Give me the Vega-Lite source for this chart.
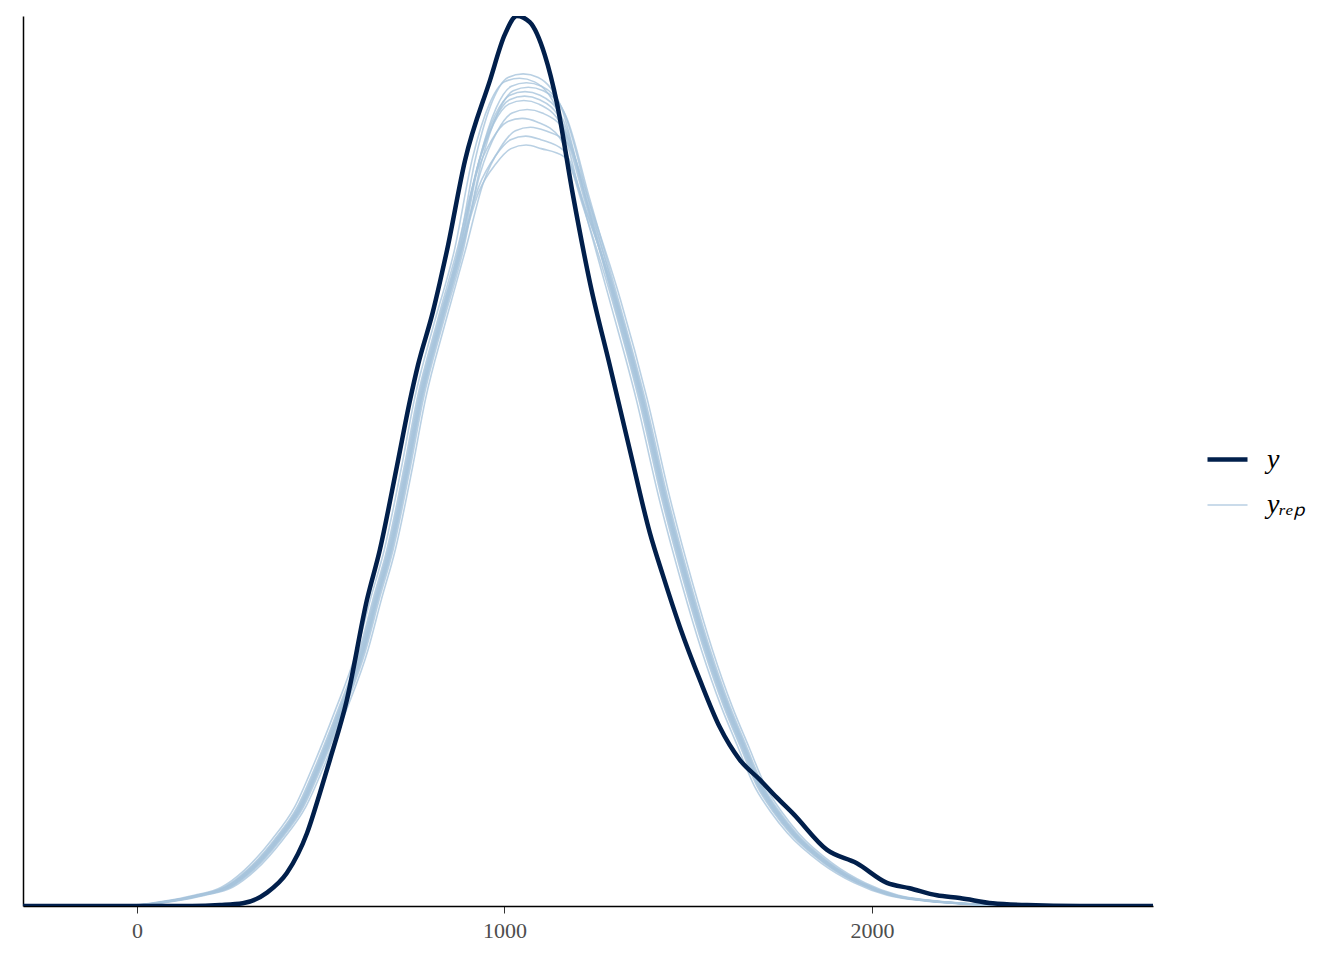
{
"$schema": "https://vega.github.io/schema/vega-lite/v6.json",
"width": 1130,
"height": 890,
"autosize": {"type": "none"},
"padding": {"left": 23, "top": 16, "right": 191, "bottom": 54},
"config": {"view": {"stroke": null}, "font": "Liberation Serif"},
"datasets": {
"yobs": [
{"g":"y","s":"y","x":-310,"d":0},{"g":"y","s":"y","x":0,"d":0},{"g":"y","s":"y","x":150,"d":0},{"g":"y","s":"y","x":226,"d":0.001},{"g":"y","s":"y","x":288,"d":0.003},{"g":"y","s":"y","x":354,"d":0.015},{"g":"y","s":"y","x":408,"d":0.037},{"g":"y","s":"y","x":463,"d":0.082},{"g":"y","s":"y","x":498,"d":0.127},{"g":"y","s":"y","x":525,"d":0.164},{"g":"y","s":"y","x":571,"d":0.231},{"g":"y","s":"y","x":626,"d":0.344},{"g":"y","s":"y","x":661,"d":0.400},{"g":"y","s":"y","x":707,"d":0.493},{"g":"y","s":"y","x":743,"d":0.568},{"g":"y","s":"y","x":765,"d":0.608},{"g":"y","s":"y","x":805,"d":0.667},{"g":"y","s":"y","x":824,"d":0.700},{"g":"y","s":"y","x":844,"d":0.737},{"g":"y","s":"y","x":893,"d":0.838},{"g":"y","s":"y","x":961,"d":0.928},{"g":"y","s":"y","x":1001,"d":0.979},{"g":"y","s":"y","x":1034,"d":1.0},{"g":"y","s":"y","x":1069,"d":0.993},{"g":"y","s":"y","x":1110,"d":0.956},{"g":"y","s":"y","x":1143,"d":0.902},{"g":"y","s":"y","x":1186,"d":0.800},{"g":"y","s":"y","x":1233,"d":0.700},{"g":"y","s":"y","x":1287,"d":0.607},{"g":"y","s":"y","x":1341,"d":0.513},{"g":"y","s":"y","x":1396,"d":0.419},{"g":"y","s":"y","x":1431,"d":0.372},{"g":"y","s":"y","x":1478,"d":0.313},{"g":"y","s":"y","x":1532,"d":0.254},{"g":"y","s":"y","x":1586,"d":0.201},{"g":"y","s":"y","x":1641,"d":0.164},{"g":"y","s":"y","x":1695,"d":0.142},{"g":"y","s":"y","x":1741,"d":0.122},{"g":"y","s":"y","x":1785,"d":0.104},{"g":"y","s":"y","x":1878,"d":0.063},{"g":"y","s":"y","x":1959,"d":0.048},{"g":"y","s":"y","x":2041,"d":0.026},{"g":"y","s":"y","x":2103,"d":0.020},{"g":"y","s":"y","x":2177,"d":0.012},{"g":"y","s":"y","x":2239,"d":0.009},{"g":"y","s":"y","x":2329,"d":0.003},{"g":"y","s":"y","x":2422,"d":0.001},{"g":"y","s":"y","x":2566,"d":0},{"g":"y","s":"y","x":2765,"d":0}
],
"yrep": [
{"g":"y_rep","s":"r1","x":-310,"d":0},{"g":"y_rep","s":"r1","x":-15,"d":0.001},{"g":"y_rep","s":"r1","x":67,"d":0.005},{"g":"y_rep","s":"r1","x":156,"d":0.012},{"g":"y_rep","s":"r1","x":230,"d":0.021},{"g":"y_rep","s":"r1","x":292,"d":0.040},{"g":"y_rep","s":"r1","x":366,"d":0.074},{"g":"y_rep","s":"r1","x":429,"d":0.111},{"g":"y_rep","s":"r1","x":483,"d":0.161},{"g":"y_rep","s":"r1","x":537,"d":0.217},{"g":"y_rep","s":"r1","x":599,"d":0.288},{"g":"y_rep","s":"r1","x":635,"d":0.344},{"g":"y_rep","s":"r1","x":673,"d":0.400},{"g":"y_rep","s":"r1","x":720,"d":0.493},{"g":"y_rep","s":"r1","x":755,"d":0.569},{"g":"y_rep","s":"r1","x":809,"d":0.655},{"g":"y_rep","s":"r1","x":864,"d":0.737},{"g":"y_rep","s":"r1","x":913,"d":0.840},{"g":"y_rep","s":"r1","x":959,"d":0.901},{"g":"y_rep","s":"r1","x":1000,"d":0.926},{"g":"y_rep","s":"r1","x":1041,"d":0.930},{"g":"y_rep","s":"r1","x":1082,"d":0.926},{"g":"y_rep","s":"r1","x":1144,"d":0.894},{"g":"y_rep","s":"r1","x":1207,"d":0.799},{"g":"y_rep","s":"r1","x":1286,"d":0.681},{"g":"y_rep","s":"r1","x":1359,"d":0.569},{"g":"y_rep","s":"r1","x":1422,"d":0.456},{"g":"y_rep","s":"r1","x":1482,"d":0.363},{"g":"y_rep","s":"r1","x":1536,"d":0.288},{"g":"y_rep","s":"r1","x":1590,"d":0.224},{"g":"y_rep","s":"r1","x":1634,"d":0.180},{"g":"y_rep","s":"r1","x":1680,"d":0.135},{"g":"y_rep","s":"r1","x":1726,"d":0.105},{"g":"y_rep","s":"r1","x":1770,"d":0.082},{"g":"y_rep","s":"r1","x":1863,"d":0.048},{"g":"y_rep","s":"r1","x":1952,"d":0.026},{"g":"y_rep","s":"r1","x":2042,"d":0.012},{"g":"y_rep","s":"r1","x":2135,"d":0.006},{"g":"y_rep","s":"r1","x":2224,"d":0.003},{"g":"y_rep","s":"r1","x":2314,"d":0.001},{"g":"y_rep","s":"r1","x":2469,"d":0},{"g":"y_rep","s":"r1","x":2765,"d":0},
{"g":"y_rep","s":"r2","x":-310,"d":0},{"g":"y_rep","s":"r2","x":-8,"d":0.001},{"g":"y_rep","s":"r2","x":74,"d":0.005},{"g":"y_rep","s":"r2","x":163,"d":0.012},{"g":"y_rep","s":"r2","x":237,"d":0.021},{"g":"y_rep","s":"r2","x":299,"d":0.040},{"g":"y_rep","s":"r2","x":373,"d":0.074},{"g":"y_rep","s":"r2","x":436,"d":0.111},{"g":"y_rep","s":"r2","x":490,"d":0.161},{"g":"y_rep","s":"r2","x":544,"d":0.217},{"g":"y_rep","s":"r2","x":606,"d":0.288},{"g":"y_rep","s":"r2","x":642,"d":0.344},{"g":"y_rep","s":"r2","x":680,"d":0.400},{"g":"y_rep","s":"r2","x":727,"d":0.493},{"g":"y_rep","s":"r2","x":762,"d":0.569},{"g":"y_rep","s":"r2","x":816,"d":0.655},{"g":"y_rep","s":"r2","x":871,"d":0.737},{"g":"y_rep","s":"r2","x":920,"d":0.818},{"g":"y_rep","s":"r2","x":966,"d":0.861},{"g":"y_rep","s":"r2","x":1007,"d":0.881},{"g":"y_rep","s":"r2","x":1048,"d":0.885},{"g":"y_rep","s":"r2","x":1089,"d":0.881},{"g":"y_rep","s":"r2","x":1151,"d":0.863},{"g":"y_rep","s":"r2","x":1214,"d":0.786},{"g":"y_rep","s":"r2","x":1293,"d":0.681},{"g":"y_rep","s":"r2","x":1366,"d":0.569},{"g":"y_rep","s":"r2","x":1429,"d":0.456},{"g":"y_rep","s":"r2","x":1489,"d":0.363},{"g":"y_rep","s":"r2","x":1543,"d":0.288},{"g":"y_rep","s":"r2","x":1597,"d":0.224},{"g":"y_rep","s":"r2","x":1641,"d":0.180},{"g":"y_rep","s":"r2","x":1687,"d":0.135},{"g":"y_rep","s":"r2","x":1733,"d":0.105},{"g":"y_rep","s":"r2","x":1777,"d":0.082},{"g":"y_rep","s":"r2","x":1870,"d":0.048},{"g":"y_rep","s":"r2","x":1959,"d":0.026},{"g":"y_rep","s":"r2","x":2049,"d":0.012},{"g":"y_rep","s":"r2","x":2142,"d":0.006},{"g":"y_rep","s":"r2","x":2231,"d":0.003},{"g":"y_rep","s":"r2","x":2321,"d":0.001},{"g":"y_rep","s":"r2","x":2476,"d":0},{"g":"y_rep","s":"r2","x":2765,"d":0},
{"g":"y_rep","s":"r3","x":-310,"d":0},{"g":"y_rep","s":"r3","x":-5,"d":0.001},{"g":"y_rep","s":"r3","x":77,"d":0.005},{"g":"y_rep","s":"r3","x":166,"d":0.012},{"g":"y_rep","s":"r3","x":240,"d":0.021},{"g":"y_rep","s":"r3","x":302,"d":0.040},{"g":"y_rep","s":"r3","x":376,"d":0.074},{"g":"y_rep","s":"r3","x":439,"d":0.111},{"g":"y_rep","s":"r3","x":493,"d":0.161},{"g":"y_rep","s":"r3","x":547,"d":0.217},{"g":"y_rep","s":"r3","x":609,"d":0.288},{"g":"y_rep","s":"r3","x":645,"d":0.344},{"g":"y_rep","s":"r3","x":683,"d":0.400},{"g":"y_rep","s":"r3","x":730,"d":0.493},{"g":"y_rep","s":"r3","x":765,"d":0.569},{"g":"y_rep","s":"r3","x":819,"d":0.655},{"g":"y_rep","s":"r3","x":874,"d":0.737},{"g":"y_rep","s":"r3","x":923,"d":0.843},{"g":"y_rep","s":"r3","x":969,"d":0.906},{"g":"y_rep","s":"r3","x":1010,"d":0.931},{"g":"y_rep","s":"r3","x":1051,"d":0.935},{"g":"y_rep","s":"r3","x":1092,"d":0.931},{"g":"y_rep","s":"r3","x":1154,"d":0.898},{"g":"y_rep","s":"r3","x":1217,"d":0.801},{"g":"y_rep","s":"r3","x":1296,"d":0.681},{"g":"y_rep","s":"r3","x":1369,"d":0.569},{"g":"y_rep","s":"r3","x":1432,"d":0.456},{"g":"y_rep","s":"r3","x":1492,"d":0.363},{"g":"y_rep","s":"r3","x":1546,"d":0.288},{"g":"y_rep","s":"r3","x":1600,"d":0.224},{"g":"y_rep","s":"r3","x":1644,"d":0.180},{"g":"y_rep","s":"r3","x":1690,"d":0.135},{"g":"y_rep","s":"r3","x":1736,"d":0.105},{"g":"y_rep","s":"r3","x":1780,"d":0.082},{"g":"y_rep","s":"r3","x":1873,"d":0.048},{"g":"y_rep","s":"r3","x":1962,"d":0.026},{"g":"y_rep","s":"r3","x":2052,"d":0.012},{"g":"y_rep","s":"r3","x":2145,"d":0.006},{"g":"y_rep","s":"r3","x":2234,"d":0.003},{"g":"y_rep","s":"r3","x":2324,"d":0.001},{"g":"y_rep","s":"r3","x":2479,"d":0},{"g":"y_rep","s":"r3","x":2765,"d":0},
{"g":"y_rep","s":"r4","x":-310,"d":0},{"g":"y_rep","s":"r4","x":-3,"d":0.001},{"g":"y_rep","s":"r4","x":79,"d":0.005},{"g":"y_rep","s":"r4","x":168,"d":0.012},{"g":"y_rep","s":"r4","x":242,"d":0.021},{"g":"y_rep","s":"r4","x":304,"d":0.040},{"g":"y_rep","s":"r4","x":378,"d":0.074},{"g":"y_rep","s":"r4","x":441,"d":0.111},{"g":"y_rep","s":"r4","x":495,"d":0.161},{"g":"y_rep","s":"r4","x":549,"d":0.217},{"g":"y_rep","s":"r4","x":611,"d":0.288},{"g":"y_rep","s":"r4","x":647,"d":0.344},{"g":"y_rep","s":"r4","x":685,"d":0.400},{"g":"y_rep","s":"r4","x":732,"d":0.493},{"g":"y_rep","s":"r4","x":767,"d":0.569},{"g":"y_rep","s":"r4","x":821,"d":0.655},{"g":"y_rep","s":"r4","x":876,"d":0.737},{"g":"y_rep","s":"r4","x":925,"d":0.828},{"g":"y_rep","s":"r4","x":971,"d":0.879},{"g":"y_rep","s":"r4","x":1012,"d":0.901},{"g":"y_rep","s":"r4","x":1053,"d":0.905},{"g":"y_rep","s":"r4","x":1094,"d":0.901},{"g":"y_rep","s":"r4","x":1156,"d":0.877},{"g":"y_rep","s":"r4","x":1219,"d":0.792},{"g":"y_rep","s":"r4","x":1298,"d":0.681},{"g":"y_rep","s":"r4","x":1371,"d":0.569},{"g":"y_rep","s":"r4","x":1434,"d":0.456},{"g":"y_rep","s":"r4","x":1494,"d":0.363},{"g":"y_rep","s":"r4","x":1548,"d":0.288},{"g":"y_rep","s":"r4","x":1602,"d":0.224},{"g":"y_rep","s":"r4","x":1646,"d":0.180},{"g":"y_rep","s":"r4","x":1692,"d":0.135},{"g":"y_rep","s":"r4","x":1738,"d":0.105},{"g":"y_rep","s":"r4","x":1782,"d":0.082},{"g":"y_rep","s":"r4","x":1875,"d":0.048},{"g":"y_rep","s":"r4","x":1964,"d":0.026},{"g":"y_rep","s":"r4","x":2054,"d":0.012},{"g":"y_rep","s":"r4","x":2147,"d":0.006},{"g":"y_rep","s":"r4","x":2236,"d":0.003},{"g":"y_rep","s":"r4","x":2326,"d":0.001},{"g":"y_rep","s":"r4","x":2481,"d":0},{"g":"y_rep","s":"r4","x":2765,"d":0},
{"g":"y_rep","s":"r5","x":-310,"d":0},{"g":"y_rep","s":"r5","x":0,"d":0.001},{"g":"y_rep","s":"r5","x":82,"d":0.005},{"g":"y_rep","s":"r5","x":171,"d":0.012},{"g":"y_rep","s":"r5","x":245,"d":0.021},{"g":"y_rep","s":"r5","x":307,"d":0.040},{"g":"y_rep","s":"r5","x":381,"d":0.074},{"g":"y_rep","s":"r5","x":444,"d":0.111},{"g":"y_rep","s":"r5","x":498,"d":0.161},{"g":"y_rep","s":"r5","x":552,"d":0.217},{"g":"y_rep","s":"r5","x":614,"d":0.288},{"g":"y_rep","s":"r5","x":650,"d":0.344},{"g":"y_rep","s":"r5","x":688,"d":0.400},{"g":"y_rep","s":"r5","x":735,"d":0.493},{"g":"y_rep","s":"r5","x":770,"d":0.569},{"g":"y_rep","s":"r5","x":824,"d":0.655},{"g":"y_rep","s":"r5","x":879,"d":0.737},{"g":"y_rep","s":"r5","x":928,"d":0.833},{"g":"y_rep","s":"r5","x":974,"d":0.888},{"g":"y_rep","s":"r5","x":1015,"d":0.911},{"g":"y_rep","s":"r5","x":1056,"d":0.915},{"g":"y_rep","s":"r5","x":1097,"d":0.911},{"g":"y_rep","s":"r5","x":1159,"d":0.884},{"g":"y_rep","s":"r5","x":1222,"d":0.795},{"g":"y_rep","s":"r5","x":1301,"d":0.681},{"g":"y_rep","s":"r5","x":1374,"d":0.569},{"g":"y_rep","s":"r5","x":1437,"d":0.456},{"g":"y_rep","s":"r5","x":1497,"d":0.363},{"g":"y_rep","s":"r5","x":1551,"d":0.288},{"g":"y_rep","s":"r5","x":1605,"d":0.224},{"g":"y_rep","s":"r5","x":1649,"d":0.180},{"g":"y_rep","s":"r5","x":1695,"d":0.135},{"g":"y_rep","s":"r5","x":1741,"d":0.105},{"g":"y_rep","s":"r5","x":1785,"d":0.082},{"g":"y_rep","s":"r5","x":1878,"d":0.048},{"g":"y_rep","s":"r5","x":1967,"d":0.026},{"g":"y_rep","s":"r5","x":2057,"d":0.012},{"g":"y_rep","s":"r5","x":2150,"d":0.006},{"g":"y_rep","s":"r5","x":2239,"d":0.003},{"g":"y_rep","s":"r5","x":2329,"d":0.001},{"g":"y_rep","s":"r5","x":2484,"d":0},{"g":"y_rep","s":"r5","x":2765,"d":0},
{"g":"y_rep","s":"r6","x":-310,"d":0},{"g":"y_rep","s":"r6","x":2,"d":0.001},{"g":"y_rep","s":"r6","x":84,"d":0.005},{"g":"y_rep","s":"r6","x":173,"d":0.012},{"g":"y_rep","s":"r6","x":247,"d":0.021},{"g":"y_rep","s":"r6","x":309,"d":0.040},{"g":"y_rep","s":"r6","x":383,"d":0.074},{"g":"y_rep","s":"r6","x":446,"d":0.111},{"g":"y_rep","s":"r6","x":500,"d":0.161},{"g":"y_rep","s":"r6","x":554,"d":0.217},{"g":"y_rep","s":"r6","x":616,"d":0.288},{"g":"y_rep","s":"r6","x":652,"d":0.344},{"g":"y_rep","s":"r6","x":690,"d":0.400},{"g":"y_rep","s":"r6","x":737,"d":0.493},{"g":"y_rep","s":"r6","x":772,"d":0.569},{"g":"y_rep","s":"r6","x":826,"d":0.655},{"g":"y_rep","s":"r6","x":881,"d":0.737},{"g":"y_rep","s":"r6","x":930,"d":0.808},{"g":"y_rep","s":"r6","x":976,"d":0.843},{"g":"y_rep","s":"r6","x":1017,"d":0.861},{"g":"y_rep","s":"r6","x":1058,"d":0.865},{"g":"y_rep","s":"r6","x":1099,"d":0.861},{"g":"y_rep","s":"r6","x":1161,"d":0.849},{"g":"y_rep","s":"r6","x":1224,"d":0.780},{"g":"y_rep","s":"r6","x":1303,"d":0.681},{"g":"y_rep","s":"r6","x":1376,"d":0.569},{"g":"y_rep","s":"r6","x":1439,"d":0.456},{"g":"y_rep","s":"r6","x":1499,"d":0.363},{"g":"y_rep","s":"r6","x":1553,"d":0.288},{"g":"y_rep","s":"r6","x":1607,"d":0.224},{"g":"y_rep","s":"r6","x":1651,"d":0.180},{"g":"y_rep","s":"r6","x":1697,"d":0.135},{"g":"y_rep","s":"r6","x":1743,"d":0.105},{"g":"y_rep","s":"r6","x":1787,"d":0.082},{"g":"y_rep","s":"r6","x":1880,"d":0.048},{"g":"y_rep","s":"r6","x":1969,"d":0.026},{"g":"y_rep","s":"r6","x":2059,"d":0.012},{"g":"y_rep","s":"r6","x":2152,"d":0.006},{"g":"y_rep","s":"r6","x":2241,"d":0.003},{"g":"y_rep","s":"r6","x":2331,"d":0.001},{"g":"y_rep","s":"r6","x":2486,"d":0},{"g":"y_rep","s":"r6","x":2765,"d":0},
{"g":"y_rep","s":"r7","x":-310,"d":0},{"g":"y_rep","s":"r7","x":4,"d":0.001},{"g":"y_rep","s":"r7","x":86,"d":0.005},{"g":"y_rep","s":"r7","x":175,"d":0.012},{"g":"y_rep","s":"r7","x":249,"d":0.021},{"g":"y_rep","s":"r7","x":311,"d":0.040},{"g":"y_rep","s":"r7","x":385,"d":0.074},{"g":"y_rep","s":"r7","x":448,"d":0.111},{"g":"y_rep","s":"r7","x":502,"d":0.161},{"g":"y_rep","s":"r7","x":556,"d":0.217},{"g":"y_rep","s":"r7","x":618,"d":0.288},{"g":"y_rep","s":"r7","x":654,"d":0.344},{"g":"y_rep","s":"r7","x":692,"d":0.400},{"g":"y_rep","s":"r7","x":739,"d":0.493},{"g":"y_rep","s":"r7","x":774,"d":0.569},{"g":"y_rep","s":"r7","x":828,"d":0.655},{"g":"y_rep","s":"r7","x":883,"d":0.737},{"g":"y_rep","s":"r7","x":932,"d":0.838},{"g":"y_rep","s":"r7","x":978,"d":0.897},{"g":"y_rep","s":"r7","x":1019,"d":0.921},{"g":"y_rep","s":"r7","x":1060,"d":0.925},{"g":"y_rep","s":"r7","x":1101,"d":0.921},{"g":"y_rep","s":"r7","x":1163,"d":0.891},{"g":"y_rep","s":"r7","x":1226,"d":0.798},{"g":"y_rep","s":"r7","x":1305,"d":0.681},{"g":"y_rep","s":"r7","x":1378,"d":0.569},{"g":"y_rep","s":"r7","x":1441,"d":0.456},{"g":"y_rep","s":"r7","x":1501,"d":0.363},{"g":"y_rep","s":"r7","x":1555,"d":0.288},{"g":"y_rep","s":"r7","x":1609,"d":0.224},{"g":"y_rep","s":"r7","x":1653,"d":0.180},{"g":"y_rep","s":"r7","x":1699,"d":0.135},{"g":"y_rep","s":"r7","x":1745,"d":0.105},{"g":"y_rep","s":"r7","x":1789,"d":0.082},{"g":"y_rep","s":"r7","x":1882,"d":0.048},{"g":"y_rep","s":"r7","x":1971,"d":0.026},{"g":"y_rep","s":"r7","x":2061,"d":0.012},{"g":"y_rep","s":"r7","x":2154,"d":0.006},{"g":"y_rep","s":"r7","x":2243,"d":0.003},{"g":"y_rep","s":"r7","x":2333,"d":0.001},{"g":"y_rep","s":"r7","x":2488,"d":0},{"g":"y_rep","s":"r7","x":2765,"d":0},
{"g":"y_rep","s":"r8","x":-310,"d":0},{"g":"y_rep","s":"r8","x":6,"d":0.001},{"g":"y_rep","s":"r8","x":88,"d":0.005},{"g":"y_rep","s":"r8","x":177,"d":0.012},{"g":"y_rep","s":"r8","x":251,"d":0.021},{"g":"y_rep","s":"r8","x":313,"d":0.040},{"g":"y_rep","s":"r8","x":387,"d":0.074},{"g":"y_rep","s":"r8","x":450,"d":0.111},{"g":"y_rep","s":"r8","x":504,"d":0.161},{"g":"y_rep","s":"r8","x":558,"d":0.217},{"g":"y_rep","s":"r8","x":620,"d":0.288},{"g":"y_rep","s":"r8","x":656,"d":0.344},{"g":"y_rep","s":"r8","x":694,"d":0.400},{"g":"y_rep","s":"r8","x":741,"d":0.493},{"g":"y_rep","s":"r8","x":776,"d":0.569},{"g":"y_rep","s":"r8","x":830,"d":0.655},{"g":"y_rep","s":"r8","x":885,"d":0.737},{"g":"y_rep","s":"r8","x":934,"d":0.823},{"g":"y_rep","s":"r8","x":980,"d":0.870},{"g":"y_rep","s":"r8","x":1021,"d":0.891},{"g":"y_rep","s":"r8","x":1062,"d":0.895},{"g":"y_rep","s":"r8","x":1103,"d":0.891},{"g":"y_rep","s":"r8","x":1165,"d":0.870},{"g":"y_rep","s":"r8","x":1228,"d":0.789},{"g":"y_rep","s":"r8","x":1307,"d":0.681},{"g":"y_rep","s":"r8","x":1380,"d":0.569},{"g":"y_rep","s":"r8","x":1443,"d":0.456},{"g":"y_rep","s":"r8","x":1503,"d":0.363},{"g":"y_rep","s":"r8","x":1557,"d":0.288},{"g":"y_rep","s":"r8","x":1611,"d":0.224},{"g":"y_rep","s":"r8","x":1655,"d":0.180},{"g":"y_rep","s":"r8","x":1701,"d":0.135},{"g":"y_rep","s":"r8","x":1747,"d":0.105},{"g":"y_rep","s":"r8","x":1791,"d":0.082},{"g":"y_rep","s":"r8","x":1884,"d":0.048},{"g":"y_rep","s":"r8","x":1973,"d":0.026},{"g":"y_rep","s":"r8","x":2063,"d":0.012},{"g":"y_rep","s":"r8","x":2156,"d":0.006},{"g":"y_rep","s":"r8","x":2245,"d":0.003},{"g":"y_rep","s":"r8","x":2335,"d":0.001},{"g":"y_rep","s":"r8","x":2490,"d":0},{"g":"y_rep","s":"r8","x":2765,"d":0},
{"g":"y_rep","s":"r9","x":-310,"d":0},{"g":"y_rep","s":"r9","x":9,"d":0.001},{"g":"y_rep","s":"r9","x":91,"d":0.005},{"g":"y_rep","s":"r9","x":180,"d":0.012},{"g":"y_rep","s":"r9","x":254,"d":0.021},{"g":"y_rep","s":"r9","x":316,"d":0.040},{"g":"y_rep","s":"r9","x":390,"d":0.074},{"g":"y_rep","s":"r9","x":453,"d":0.111},{"g":"y_rep","s":"r9","x":507,"d":0.161},{"g":"y_rep","s":"r9","x":561,"d":0.217},{"g":"y_rep","s":"r9","x":623,"d":0.288},{"g":"y_rep","s":"r9","x":659,"d":0.344},{"g":"y_rep","s":"r9","x":697,"d":0.400},{"g":"y_rep","s":"r9","x":744,"d":0.493},{"g":"y_rep","s":"r9","x":779,"d":0.569},{"g":"y_rep","s":"r9","x":833,"d":0.655},{"g":"y_rep","s":"r9","x":888,"d":0.737},{"g":"y_rep","s":"r9","x":937,"d":0.835},{"g":"y_rep","s":"r9","x":983,"d":0.892},{"g":"y_rep","s":"r9","x":1024,"d":0.916},{"g":"y_rep","s":"r9","x":1065,"d":0.920},{"g":"y_rep","s":"r9","x":1106,"d":0.916},{"g":"y_rep","s":"r9","x":1168,"d":0.887},{"g":"y_rep","s":"r9","x":1231,"d":0.796},{"g":"y_rep","s":"r9","x":1310,"d":0.681},{"g":"y_rep","s":"r9","x":1383,"d":0.569},{"g":"y_rep","s":"r9","x":1446,"d":0.456},{"g":"y_rep","s":"r9","x":1506,"d":0.363},{"g":"y_rep","s":"r9","x":1560,"d":0.288},{"g":"y_rep","s":"r9","x":1614,"d":0.224},{"g":"y_rep","s":"r9","x":1658,"d":0.180},{"g":"y_rep","s":"r9","x":1704,"d":0.135},{"g":"y_rep","s":"r9","x":1750,"d":0.105},{"g":"y_rep","s":"r9","x":1794,"d":0.082},{"g":"y_rep","s":"r9","x":1887,"d":0.048},{"g":"y_rep","s":"r9","x":1976,"d":0.026},{"g":"y_rep","s":"r9","x":2066,"d":0.012},{"g":"y_rep","s":"r9","x":2159,"d":0.006},{"g":"y_rep","s":"r9","x":2248,"d":0.003},{"g":"y_rep","s":"r9","x":2338,"d":0.001},{"g":"y_rep","s":"r9","x":2493,"d":0},{"g":"y_rep","s":"r9","x":2765,"d":0},
{"g":"y_rep","s":"r10","x":-310,"d":0},{"g":"y_rep","s":"r10","x":15,"d":0.001},{"g":"y_rep","s":"r10","x":97,"d":0.005},{"g":"y_rep","s":"r10","x":186,"d":0.012},{"g":"y_rep","s":"r10","x":260,"d":0.021},{"g":"y_rep","s":"r10","x":322,"d":0.040},{"g":"y_rep","s":"r10","x":396,"d":0.074},{"g":"y_rep","s":"r10","x":459,"d":0.111},{"g":"y_rep","s":"r10","x":513,"d":0.161},{"g":"y_rep","s":"r10","x":567,"d":0.217},{"g":"y_rep","s":"r10","x":629,"d":0.288},{"g":"y_rep","s":"r10","x":665,"d":0.344},{"g":"y_rep","s":"r10","x":703,"d":0.400},{"g":"y_rep","s":"r10","x":750,"d":0.493},{"g":"y_rep","s":"r10","x":785,"d":0.569},{"g":"y_rep","s":"r10","x":839,"d":0.655},{"g":"y_rep","s":"r10","x":894,"d":0.737},{"g":"y_rep","s":"r10","x":943,"d":0.813},{"g":"y_rep","s":"r10","x":989,"d":0.852},{"g":"y_rep","s":"r10","x":1030,"d":0.871},{"g":"y_rep","s":"r10","x":1071,"d":0.875},{"g":"y_rep","s":"r10","x":1112,"d":0.871},{"g":"y_rep","s":"r10","x":1174,"d":0.856},{"g":"y_rep","s":"r10","x":1237,"d":0.783},{"g":"y_rep","s":"r10","x":1316,"d":0.681},{"g":"y_rep","s":"r10","x":1389,"d":0.569},{"g":"y_rep","s":"r10","x":1452,"d":0.456},{"g":"y_rep","s":"r10","x":1512,"d":0.363},{"g":"y_rep","s":"r10","x":1566,"d":0.288},{"g":"y_rep","s":"r10","x":1620,"d":0.224},{"g":"y_rep","s":"r10","x":1664,"d":0.180},{"g":"y_rep","s":"r10","x":1710,"d":0.135},{"g":"y_rep","s":"r10","x":1756,"d":0.105},{"g":"y_rep","s":"r10","x":1800,"d":0.082},{"g":"y_rep","s":"r10","x":1893,"d":0.048},{"g":"y_rep","s":"r10","x":1982,"d":0.026},{"g":"y_rep","s":"r10","x":2072,"d":0.012},{"g":"y_rep","s":"r10","x":2165,"d":0.006},{"g":"y_rep","s":"r10","x":2254,"d":0.003},{"g":"y_rep","s":"r10","x":2344,"d":0.001},{"g":"y_rep","s":"r10","x":2499,"d":0},{"g":"y_rep","s":"r10","x":2765,"d":0},
{"g":"y_rep","s":"r11","x":-310,"d":0},{"g":"y_rep","s":"r11","x":-1,"d":0.001},{"g":"y_rep","s":"r11","x":81,"d":0.005},{"g":"y_rep","s":"r11","x":170,"d":0.012},{"g":"y_rep","s":"r11","x":244,"d":0.021},{"g":"y_rep","s":"r11","x":306,"d":0.040},{"g":"y_rep","s":"r11","x":380,"d":0.074},{"g":"y_rep","s":"r11","x":443,"d":0.111},{"g":"y_rep","s":"r11","x":497,"d":0.161},{"g":"y_rep","s":"r11","x":551,"d":0.217},{"g":"y_rep","s":"r11","x":613,"d":0.288},{"g":"y_rep","s":"r11","x":649,"d":0.344},{"g":"y_rep","s":"r11","x":687,"d":0.400},{"g":"y_rep","s":"r11","x":734,"d":0.493},{"g":"y_rep","s":"r11","x":769,"d":0.569},{"g":"y_rep","s":"r11","x":823,"d":0.655},{"g":"y_rep","s":"r11","x":878,"d":0.737},{"g":"y_rep","s":"r11","x":927,"d":0.830},{"g":"y_rep","s":"r11","x":973,"d":0.883},{"g":"y_rep","s":"r11","x":1014,"d":0.906},{"g":"y_rep","s":"r11","x":1055,"d":0.910},{"g":"y_rep","s":"r11","x":1096,"d":0.906},{"g":"y_rep","s":"r11","x":1158,"d":0.880},{"g":"y_rep","s":"r11","x":1221,"d":0.793},{"g":"y_rep","s":"r11","x":1300,"d":0.681},{"g":"y_rep","s":"r11","x":1373,"d":0.569},{"g":"y_rep","s":"r11","x":1436,"d":0.456},{"g":"y_rep","s":"r11","x":1496,"d":0.363},{"g":"y_rep","s":"r11","x":1550,"d":0.288},{"g":"y_rep","s":"r11","x":1604,"d":0.224},{"g":"y_rep","s":"r11","x":1648,"d":0.180},{"g":"y_rep","s":"r11","x":1694,"d":0.135},{"g":"y_rep","s":"r11","x":1740,"d":0.105},{"g":"y_rep","s":"r11","x":1784,"d":0.082},{"g":"y_rep","s":"r11","x":1877,"d":0.048},{"g":"y_rep","s":"r11","x":1966,"d":0.026},{"g":"y_rep","s":"r11","x":2056,"d":0.012},{"g":"y_rep","s":"r11","x":2149,"d":0.006},{"g":"y_rep","s":"r11","x":2238,"d":0.003},{"g":"y_rep","s":"r11","x":2328,"d":0.001},{"g":"y_rep","s":"r11","x":2483,"d":0},{"g":"y_rep","s":"r11","x":2765,"d":0},
{"g":"y_rep","s":"r12","x":-310,"d":0},{"g":"y_rep","s":"r12","x":3,"d":0.001},{"g":"y_rep","s":"r12","x":85,"d":0.005},{"g":"y_rep","s":"r12","x":174,"d":0.012},{"g":"y_rep","s":"r12","x":248,"d":0.021},{"g":"y_rep","s":"r12","x":310,"d":0.040},{"g":"y_rep","s":"r12","x":384,"d":0.074},{"g":"y_rep","s":"r12","x":447,"d":0.111},{"g":"y_rep","s":"r12","x":501,"d":0.161},{"g":"y_rep","s":"r12","x":555,"d":0.217},{"g":"y_rep","s":"r12","x":617,"d":0.288},{"g":"y_rep","s":"r12","x":653,"d":0.344},{"g":"y_rep","s":"r12","x":691,"d":0.400},{"g":"y_rep","s":"r12","x":738,"d":0.493},{"g":"y_rep","s":"r12","x":773,"d":0.569},{"g":"y_rep","s":"r12","x":827,"d":0.655},{"g":"y_rep","s":"r12","x":882,"d":0.737},{"g":"y_rep","s":"r12","x":931,"d":0.803},{"g":"y_rep","s":"r12","x":977,"d":0.834},{"g":"y_rep","s":"r12","x":1018,"d":0.851},{"g":"y_rep","s":"r12","x":1059,"d":0.855},{"g":"y_rep","s":"r12","x":1100,"d":0.851},{"g":"y_rep","s":"r12","x":1162,"d":0.842},{"g":"y_rep","s":"r12","x":1225,"d":0.777},{"g":"y_rep","s":"r12","x":1304,"d":0.681},{"g":"y_rep","s":"r12","x":1377,"d":0.569},{"g":"y_rep","s":"r12","x":1440,"d":0.456},{"g":"y_rep","s":"r12","x":1500,"d":0.363},{"g":"y_rep","s":"r12","x":1554,"d":0.288},{"g":"y_rep","s":"r12","x":1608,"d":0.224},{"g":"y_rep","s":"r12","x":1652,"d":0.180},{"g":"y_rep","s":"r12","x":1698,"d":0.135},{"g":"y_rep","s":"r12","x":1744,"d":0.105},{"g":"y_rep","s":"r12","x":1788,"d":0.082},{"g":"y_rep","s":"r12","x":1881,"d":0.048},{"g":"y_rep","s":"r12","x":1970,"d":0.026},{"g":"y_rep","s":"r12","x":2060,"d":0.012},{"g":"y_rep","s":"r12","x":2153,"d":0.006},{"g":"y_rep","s":"r12","x":2242,"d":0.003},{"g":"y_rep","s":"r12","x":2332,"d":0.001},{"g":"y_rep","s":"r12","x":2487,"d":0},{"g":"y_rep","s":"r12","x":2765,"d":0}
]
},
"encoding": {
"x": {"field": "x", "type": "quantitative", "scale": {"domain": [-310, 2765], "nice": false, "zero": false},
  "axis": {"title": null, "values": [0, 1000, 2000], "format": "d", "grid": false, "domainColor": "#000000", "domainWidth": 1.5, "tickColor": "#333333", "tickSize": 7, "tickWidth": 1, "labelFont": "Liberation Serif", "labelFontSize": 22, "labelColor": "#4d4d4d", "labelPadding": 7}},
"y": {"field": "d", "type": "quantitative", "scale": {"domain": [0, 1], "nice": false},
  "axis": {"title": null, "labels": false, "ticks": false, "grid": false, "domainColor": "#000000", "domainWidth": 1.5}},
"color": {"field": "g", "type": "nominal", "scale": {"domain": ["y", "y_rep"], "range": ["#011f4b", "#a8c4dc"]},
  "legend": {"title": null, "orient": "none", "legendX": 1182, "legendY": 421, "symbolType": "stroke", "symbolSize": 1600, "labelFont": "Liberation Serif", "labelFontSize": 28, "labelFontStyle": "italic", "labelColor": "#000000", "labelOffset": 17, "rowPadding": 10, "padding": 0, "labelExpr": "datum.label == 'y' ? 'y' : 'yᵣₑₚ'"}},
"strokeWidth": {"field": "g", "type": "nominal", "scale": {"domain": ["y", "y_rep"], "range": [4.5, 1.6]},
  "legend": {"title": null, "orient": "none", "legendX": 1182, "legendY": 421, "symbolType": "stroke", "symbolSize": 1600, "labelFont": "Liberation Serif", "labelFontSize": 28, "labelFontStyle": "italic", "labelColor": "#000000", "labelOffset": 17, "rowPadding": 10, "padding": 0, "labelExpr": "datum.label == 'y' ? 'y' : 'yᵣₑₚ'"}},
"opacity": {"field": "g", "type": "nominal", "scale": {"domain": ["y", "y_rep"], "range": [1, 0.8]},
  "legend": {"title": null, "orient": "none", "legendX": 1182, "legendY": 421, "symbolType": "stroke", "symbolSize": 1600, "labelFont": "Liberation Serif", "labelFontSize": 28, "labelFontStyle": "italic", "labelColor": "#000000", "labelOffset": 17, "rowPadding": 10, "padding": 0, "labelExpr": "datum.label == 'y' ? 'y' : 'yᵣₑₚ'"}}
},
"layer": [
{"data": {"name": "yrep"}, "mark": {"type": "line", "interpolate": "monotone", "clip": true}, "encoding": {"detail": {"field": "s", "type": "nominal"}}},
{"data": {"name": "yobs"}, "mark": {"type": "line", "interpolate": "monotone", "clip": true}, "encoding": {"detail": {"field": "s", "type": "nominal"}}}
]
}
